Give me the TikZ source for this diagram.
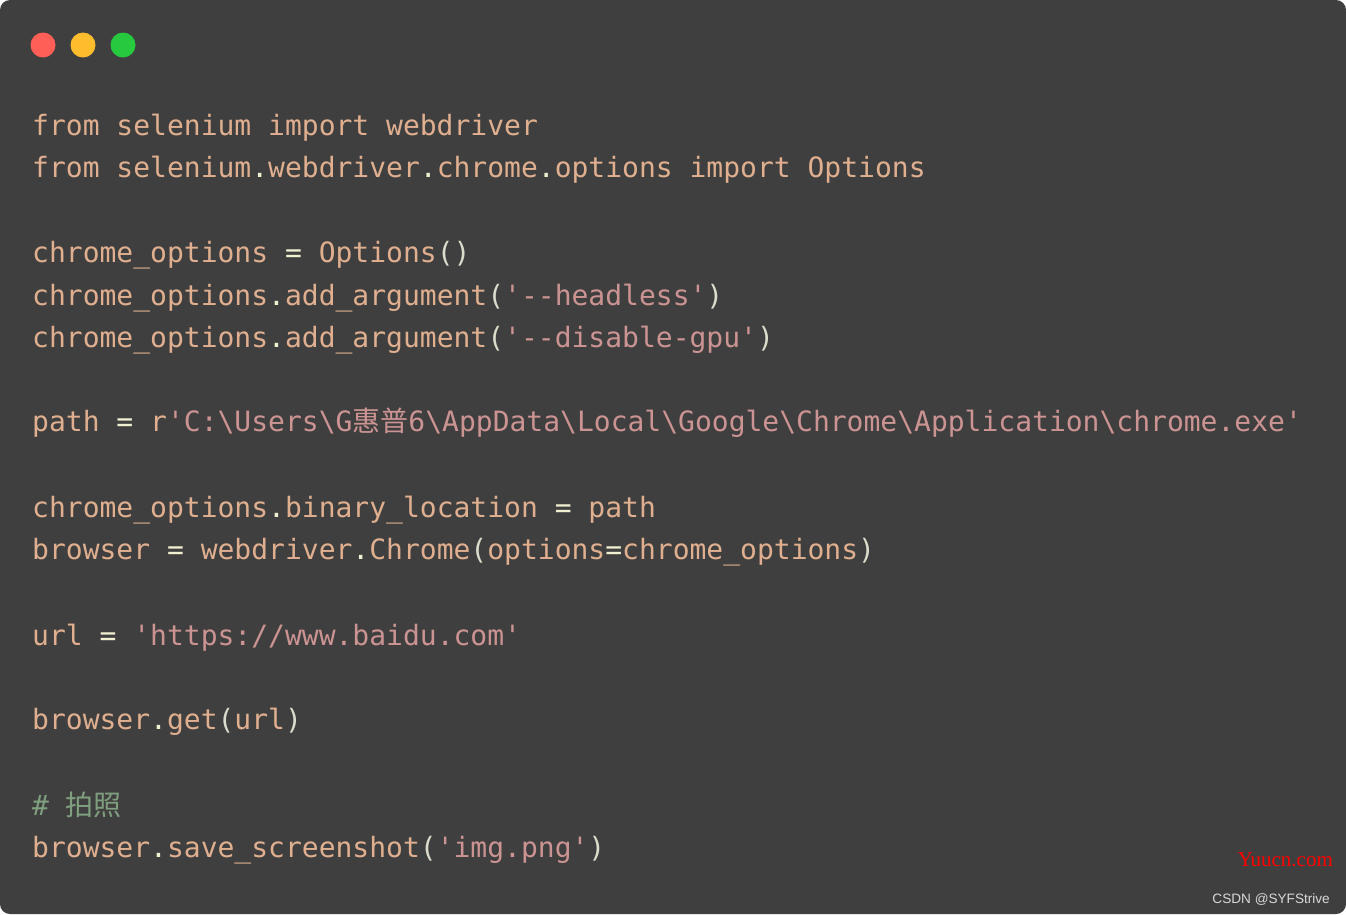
\documentclass[tikz,border=0pt]{standalone}
\usepackage{fontspec}
\usepackage{xcolor}
\usetikzlibrary{positioning}
\newfontfamily\codefont[Ligatures=TeXOff]{DejaVu Sans Mono}
\newfontfamily\cjkfont{Noto Sans CJK SC}
\newfontfamily\markfont{Liberation Serif}
\newfontfamily\csdnfont{Liberation Sans}
\definecolor{winbg}{HTML}{3F3F3F}
\definecolor{tokid}{HTML}{DFAF8F}
\definecolor{tokstr}{HTML}{CC9393}
\definecolor{tokop}{HTML}{F0EFD0}
\definecolor{tokpar}{HTML}{DCDCCC}
\definecolor{tokcom}{HTML}{7F9F7F}
\definecolor{lightred}{HTML}{FF5F56}
\definecolor{lightyellow}{HTML}{FFBD2E}
\definecolor{lightgreen}{HTML}{27C93F}
\newcommand{\tkop}[1]{\textcolor{tokop}{#1}}
\newcommand{\tkpar}[1]{\textcolor{tokpar}{#1}}
\newcommand{\tkstr}[1]{\textcolor{tokstr}{#1}}
\newcommand{\tkcom}[1]{\textcolor{tokcom}{#1}}
\newcommand{\bs}{\textbackslash}
\newcommand{\us}{\char"5F\relax}
\tikzset{%
	codeline/.style = {anchor=base west, inner sep=0pt, text=tokid, font=\codefont\fontsize{28}{34}\selectfont}, % code line
	light/.style    = {circle, minimum size=25pt, inner sep=0pt}, % window button
	stamp/.style    = {anchor=base east, inner sep=0pt}, % watermark
}
\begin{document}
\begin{tikzpicture}[x=1pt,y=-1pt]
		\useasboundingbox (0,0) rectangle (1346,914);
		\fill[white] (0,0) rectangle (1346,914);
		\fill[winbg, rounded corners=10pt] (0,0) rectangle (1346,914);
		% window buttons
		\node [light, fill=lightred] (red) at (43,45) {};
		\node [light, fill=lightyellow] (yellow) at (83,45) {};
		\node [light, fill=lightgreen] (green) at (123,45) {};
		% code
		\node [codeline] (l1) at (32,135) {from selenium import webdriver};
		\node [codeline] (l2) at (32,177.5) {from selenium\tkop{.}webdriver\tkop{.}chrome\tkop{.}options import Options};
		\node [codeline] (l3) at (32,262) {chrome\us options \tkop{=} Options\tkpar{()}};
		\node [codeline] (l4) at (32,305) {chrome\us options\tkop{.}add\us argument\tkpar{(}\tkstr{'--headless'}\tkpar{)}};
		\node [codeline] (l5) at (32,347) {chrome\us options\tkop{.}add\us argument\tkpar{(}\tkstr{'--disable-gpu'}\tkpar{)}};
		\node [codeline] (l6) at (32,431.5) {path \tkop{=} r\tkstr{'C:\bs Users\bs G{\cjkfont 惠普}6\bs AppData\bs Local\bs Google\bs Chrome\bs Application\bs chrome.exe'}};
		\node [codeline] (l7) at (32,517) {chrome\us options\tkop{.}binary\us location \tkop{=} path};
		\node [codeline] (l8) at (32,559.5) {browser \tkop{=} webdriver\tkop{.}Chrome\tkpar{(}options\tkop{=}chrome\us options\tkpar{)}};
		\node [codeline] (l9) at (32,645) {url \tkop{=} \tkstr{'https://www.baidu.com'}};
		\node [codeline] (l10) at (32,729) {browser\tkop{.}get\tkpar{(}url\tkpar{)}};
		\node [codeline] (l11) at (32,815) {\tkcom{\# {\cjkfont 拍照}}};
		\node [codeline] (l12) at (32,857.5) {browser\tkop{.}save\us screenshot\tkpar{(}\tkstr{'img.png'}\tkpar{)}};
		% watermarks
		\node [stamp, text=red, font=\markfont\fontsize{21}{24}\selectfont] (site) at (1333,866) {Yuucn.com};
		\node [stamp, text=white!85!black, font=\csdnfont\fontsize{13.6}{16}\selectfont] (csdn) at (1330,903) {CSDN @SYFStrive};
	\end{tikzpicture}
\end{document}
